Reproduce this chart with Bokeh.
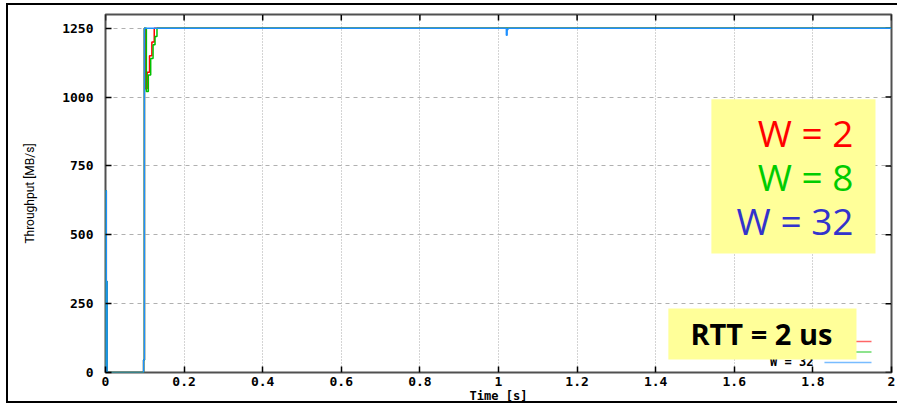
from bokeh.plotting import figure
from bokeh.models import Range1d, FixedTicker, BoxAnnotation, Label, NumeralTickFormatter, InlineStyleSheet
from bokeh.embed import file_html
from bokeh.resources import INLINE

# ---------------- data ----------------
series_names = ["W = 2", "W = 8", "W = 32"]
series_colors = ["#ff0000", "#00c000", "#1e90ff"]

# change points of the step curves: time [s] and throughput [MB/s]
time_w2 = [0.0, 0.0, 0.002, 0.004, 0.097, 0.099, 0.101, 0.106, 0.112, 0.118, 0.124, 2.0]
thr_w2 = [0, 660, 330, 0, 45, 1250, 1030, 1090, 1150, 1200, 1250, 1250]

time_w8 = [0.0, 0.0, 0.002, 0.004, 0.097, 0.099, 0.104, 0.109, 0.115, 0.121, 0.126, 0.131, 1.021, 1.022, 2.0]
thr_w8 = [0, 660, 330, 0, 45, 1250, 1020, 1080, 1140, 1190, 1220, 1250, 1245, 1250, 1250]

time_w32 = [0.0, 0.0, 0.002, 0.004, 0.097, 0.099, 1.020, 1.022, 1.024, 2.0]
thr_w32 = [0, 660, 330, 0, 45, 1250, 1225, 1245, 1250, 1250]

x_ticks = [0, 0.2, 0.4, 0.6, 0.8, 1, 1.2, 1.4, 1.6, 1.8, 2]
y_ticks = [0, 250, 500, 750, 1000, 1250]

box_lines = ["W = 2", "W = 8", "W = 32"]
box_colors = ["#ff0000", "#00cc00", "#3333cc"]
rtt_text = "RTT = 2 us"

X_MAX, Y_MAX = 2, 1300

# ---------------- helpers: reference-pixel -> data position for annotations ----------------
def dx(px):
    return (px - 105.5) / 392.75

def dy(py):
    return (372.0 - py) / 0.2752

TICK_FONT = "DejaVu Sans Mono"

frame_css = InlineStyleSheet(css="""
:host { position: relative; }
:host::after {
  content: "";
  position: absolute;
  left: 6px; top: 3px; bottom: 2px; right: 0px;
  border: 2px solid black;
  border-right: none;
  pointer-events: none;
}
""")

p = figure(width=897, height=405, output_backend="svg", toolbar_location=None,
           x_range=Range1d(0, X_MAX), y_range=Range1d(0, Y_MAX),
           min_border_left=105, min_border_right=6, min_border_top=14, min_border_bottom=33,
           background_fill_color="white", border_fill_color="white",
           stylesheets=[frame_css])

p.outline_line_color = "#505050"
p.outline_line_width = 2

# grid
p.xgrid.ticker = FixedTicker(ticks=x_ticks)
p.ygrid.ticker = FixedTicker(ticks=y_ticks)
p.xgrid.grid_line_color = "#a8a8a8"
p.xgrid.grid_line_dash = "1 2"
p.ygrid.grid_line_color = "#b0b0b0"
p.ygrid.grid_line_dash = "4 4"

# axes
for ax in (p.xaxis[0], p.yaxis[0]):
    ax.axis_line_color = None
    ax.major_tick_in = 6
    ax.major_tick_out = 0
    ax.minor_tick_in = 0
    ax.minor_tick_out = 0
    ax.major_tick_line_color = "black"
    ax.major_tick_line_width = 1.5
    ax.major_label_text_font = TICK_FONT
    ax.major_label_text_font_style = "bold"
    ax.major_label_text_font_size = "13px"
    ax.major_label_text_color = "black"
    ax.axis_label_text_color = "black"

p.xaxis.ticker = FixedTicker(ticks=x_ticks)
p.xaxis.formatter = NumeralTickFormatter(format="0.[0]")
p.xaxis.major_label_standoff = 4
p.xaxis.axis_label = "Time [s]"
p.xaxis.axis_label_text_font = TICK_FONT
p.xaxis.axis_label_text_font_style = "bold"
p.xaxis.axis_label_text_font_size = "12px"
p.xaxis.axis_label_standoff = 0

p.yaxis.ticker = FixedTicker(ticks=y_ticks)
p.yaxis.major_label_standoff = 12
p.yaxis.axis_label = "Throughput [MB/s]"
p.yaxis.axis_label_text_font = "Roboto"
p.yaxis.axis_label_text_font_style = "normal"
p.yaxis.axis_label_text_font_size = "12px"
p.yaxis.axis_label_standoff = 22

# mirrored inward ticks on the top and right frame edges (from the tick arrays)
tx = 6 * X_MAX / 785.5
ty = 6 * Y_MAX / 358.0
p.segment(x0=x_ticks, y0=[Y_MAX] * len(x_ticks), x1=x_ticks, y1=[Y_MAX - ty] * len(x_ticks),
          line_color="black", line_width=1.5)
p.segment(x0=[X_MAX] * len(y_ticks), y0=y_ticks, x1=[X_MAX - tx] * len(y_ticks), y1=y_ticks,
          line_color="black", line_width=1.5)

# series
all_t = [time_w2, time_w8, time_w32]
all_v = [thr_w2, thr_w8, thr_w32]
for t, v, c in zip(all_t, all_v, series_colors):
    p.step(t, v, mode="after", line_color=c, line_width=1.5)

# gnuplot key (mostly hidden behind the yellow box)
for i, (name, c) in enumerate(zip(series_names, series_colors)):
    ypx = 341 + i * 10.5
    p.add_layout(Label(x=dx(813), y=dy(ypx), text=name, text_align="right", text_baseline="middle",
                       text_font=TICK_FONT, text_font_style="bold", text_font_size="12px",
                       text_color="black"))
    p.segment(x0=[dx(824)], y0=[dy(ypx)], x1=[dx(871)], y1=[dy(ypx)], line_color=c, line_width=1.5, line_alpha=0.6)

# yellow boxes
p.add_layout(BoxAnnotation(left=dx(711), right=dx(875), top=dy(99), bottom=dy(253),
                           fill_color="#ffff99", fill_alpha=1.0, line_color=None))
for i, (txt, c) in enumerate(zip(box_lines, box_colors)):
    p.add_layout(Label(x=dx(853), y=dy(132 + i * 44), text=txt, text_align="right", text_baseline="middle",
                       text_font="Open Sans", text_font_size="37px", text_color=c))

p.add_layout(BoxAnnotation(left=dx(668), right=dx(856), top=dy(308), bottom=dy(359),
                           fill_color="#ffff99", fill_alpha=1.0, line_color=None))
p.add_layout(Label(x=dx(761), y=dy(333), text=rtt_text, text_align="center", text_baseline="middle",
                   text_font="Open Sans", text_font_style="bold", text_font_size="29px",
                   text_color="black"))

open("out.html", "w").write(file_html(p, INLINE))
